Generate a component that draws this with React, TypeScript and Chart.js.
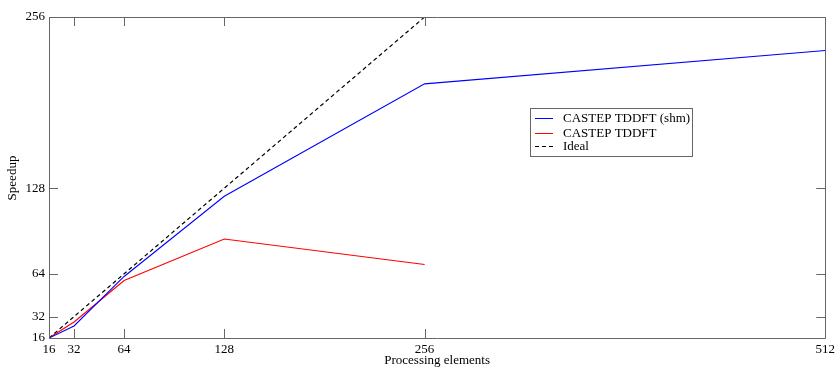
import React, { useEffect, useRef } from "react";
import { Chart, registerables } from "chart.js";

Chart.register(...registerables);

const xTicks = [16, 32, 64, 128, 256, 512];
const yTicks = [16, 32, 64, 128, 256];

const shmX = [16, 32, 64, 128, 256, 512];
const shmY = [16, 25, 62, 122, 206, 231];

const tddftX = [16, 32, 64, 128, 256];
const tddftY = [16, 28, 59, 90, 71];

const idealX = [16, 32, 64, 128, 256];
const idealY = [16, 32, 64, 128, 256];

const seriesLabels = ["CASTEP TDDFT (shm)", "CASTEP TDDFT", "Ideal"];

const FONT = "'Liberation Serif', 'DejaVu Serif', serif";

const toPts = (xs: number[], ys: number[]) => xs.map((x, i) => ({ x, y: ys[i] }));

const framePlugin = {
  id: "frameTicks",
  afterDatasetsDraw(chart: any) {
    const { ctx, chartArea } = chart;
    const { left, right, top, bottom } = chartArea;
    const xs = chart.scales.x;
    const ys = chart.scales.y;
    const tl = 9;
    ctx.save();
    ctx.strokeStyle = "#666";
    ctx.lineWidth = 1;
    ctx.beginPath();
    ctx.rect(Math.round(left) + 0.5, Math.round(top) + 0.5, Math.round(right - left), Math.round(bottom - top));
    ctx.stroke();
    ctx.beginPath();
    xTicks.forEach((v) => {
      const px = Math.round(xs.getPixelForValue(v)) + 0.5;
      ctx.moveTo(px, bottom);
      ctx.lineTo(px, bottom - tl);
      ctx.moveTo(px, top);
      ctx.lineTo(px, top + tl);
    });
    yTicks.forEach((v) => {
      const py = Math.round(ys.getPixelForValue(v)) + 0.5;
      ctx.moveTo(left, py);
      ctx.lineTo(left + tl, py);
      ctx.moveTo(right, py);
      ctx.lineTo(right - tl, py);
    });
    ctx.stroke();

    // axis titles
    ctx.fillStyle = "#000";
    ctx.font = `13px ${FONT}`;
    ctx.textAlign = "center";
    ctx.textBaseline = "alphabetic";
    ctx.fillText("Processing elements", (left + right) / 2, 364);
    ctx.save();
    ctx.translate(16, 178);
    ctx.rotate(-Math.PI / 2);
    ctx.fillText("Speedup", 0, 0);
    ctx.restore();

    // legend
    const bx = 530.5, by = 108.5, bw = 162, bh = 48;
    ctx.fillStyle = "#fff";
    ctx.fillRect(bx, by, bw, bh);
    ctx.strokeStyle = "#666";
    ctx.strokeRect(bx, by, bw, bh);
    const rows = [118.5, 133.5, 146.5];
    chart.data.datasets.forEach((ds: any, i: number) => {
      ctx.beginPath();
      ctx.strokeStyle = ds.borderColor;
      ctx.lineWidth = 1;
      ctx.setLineDash(ds.borderDash || []);
      ctx.moveTo(535, rows[i]);
      ctx.lineTo(553, rows[i]);
      ctx.stroke();
      ctx.setLineDash([]);
      ctx.fillStyle = "#000";
      ctx.textAlign = "left";
      ctx.textBaseline = "middle";
      ctx.fillText(ds.label, 563, rows[i]);
    });
    ctx.restore();
  },
};

export default function App() {
  const ref = useRef<HTMLCanvasElement | null>(null);
  useEffect(() => {
    if (!ref.current) return;
    const chart = new Chart(ref.current, {
      type: "line",
      data: {
        datasets: [
          {
            label: seriesLabels[0],
            data: toPts(shmX, shmY),
            borderColor: "#0000ff",
            borderWidth: 1.1,
            pointRadius: 0,
            fill: false,
          },
          {
            label: seriesLabels[1],
            data: toPts(tddftX, tddftY),
            borderColor: "#ff0000",
            borderWidth: 1.1,
            pointRadius: 0,
            fill: false,
          },
          {
            label: seriesLabels[2],
            data: toPts(idealX, idealY),
            borderColor: "#000000",
            borderWidth: 1.2,
            borderDash: [4, 3],
            pointRadius: 0,
            fill: false,
          },
        ],
      },
      options: {
        responsive: false,
        animation: false,
        layout: { padding: { left: 0, right: 10, top: 17, bottom: 0 } },
        plugins: { legend: { display: false }, tooltip: { enabled: false } },
        scales: {
          x: {
            type: "linear",
            min: 16,
            max: 512,
            afterBuildTicks: (s: any) => {
              s.ticks = xTicks.map((v) => ({ value: v }));
            },
            afterFit: (s: any) => {
              s.height = 29;
            },
            grid: { display: false, drawTicks: false },
            border: { display: false },
            ticks: {
              padding: 4,
              color: "#000",
              font: { family: FONT, size: 13 },
              maxRotation: 0,
              autoSkip: false,
              callback: (v: any) => String(v),
            },
          },
          y: {
            type: "linear",
            min: 16,
            max: 256,
            afterBuildTicks: (s: any) => {
              s.ticks = yTicks.map((v) => ({ value: v }));
            },
            afterFit: (s: any) => {
              s.width = 49;
            },
            grid: { display: false, drawTicks: false },
            border: { display: false },
            ticks: {
              padding: 4,
              color: "#000",
              font: { family: FONT, size: 13 },
              autoSkip: false,
              callback: (v: any) => String(v),
            },
          },
        },
      },
      plugins: [framePlugin],
    });
    return () => chart.destroy();
  }, []);
  return (
    <div style={{ position: "fixed", left: 0, top: 0, width: 839, height: 367, background: "#fff" }}>
      <canvas ref={ref} width={839} height={367} />
    </div>
  );
}
